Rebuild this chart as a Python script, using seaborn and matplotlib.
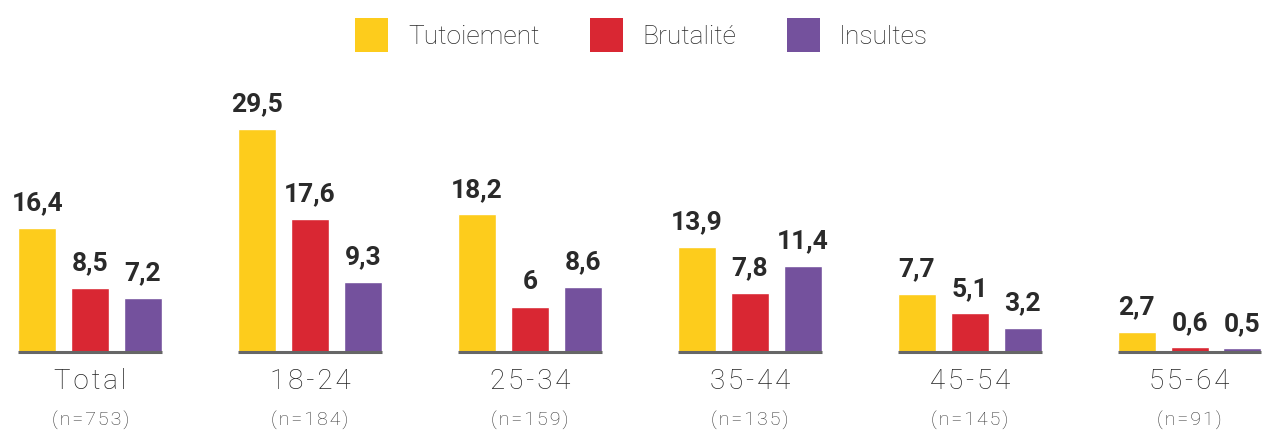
import matplotlib
matplotlib.use("Agg")
import matplotlib.pyplot as plt
import pandas as pd
import seaborn as sns
from matplotlib.patches import Patch

groups = ["Total", "18-24", "25-34", "35-44", "45-54", "55-64"]
sample_sizes = ["(n=753)", "(n=184)", "(n=159)", "(n=135)", "(n=145)", "(n=91)"]
series = ["Tutoiement", "Brutalité", "Insultes"]
tutoiement = [16.4, 29.5, 18.2, 13.9, 7.7, 2.7]
brutalite = [8.5, 17.6, 6.0, 7.8, 5.1, 0.6]
insultes = [7.2, 9.3, 8.6, 11.4, 3.2, 0.5]
colors = ["#FDCC1C", "#D92733", "#74519D"]

df = pd.DataFrame({
    "groupe": groups * 3,
    "type": [s for s in series for _ in groups],
    "valeur": tutoiement + brutalite + insultes,
})

sns.set_style("white")
plt.rcParams["font.family"] = ["Roboto", "DejaVu Sans"]

fig = plt.figure(figsize=(12.71, 4.33), dpi=100)
ax = fig.add_axes([0, 81 / 433, 1, 252 / 433])

sns.barplot(data=df, x="groupe", y="valeur", hue="type", palette=colors,
            saturation=1, width=0.72, gap=0.28, legend=False, ax=ax)

ax.set_xlim(-0.41, 5.37)
ax.set_ylim(0, 252 / 7.56)
sns.despine(ax=ax, left=True, bottom=True)
ax.set_xticks([])
ax.set_yticks([])
ax.set_xlabel("")
ax.set_ylabel("")


def fmt(v):
    s = f"{v:.1f}".replace(".", ",")
    return s[:-2] if s.endswith(",0") else s


def spaced(s):
    # a little letter spacing, like the original typography
    return "\u200a".join(s)


for cont in ax.containers:
    labels = [fmt(b.get_height()) for b in cont]
    ax.bar_label(cont, labels=labels, padding=9, fontsize=19,
                 fontweight="bold", color="#2a2a2a")

# baseline under each group
bars = [list(c) for c in ax.containers]
for i in range(len(groups)):
    left = bars[0][i].get_x()
    right = bars[-1][i].get_x() + bars[-1][i].get_width()
    ax.plot([left, right], [0, 0], color="#666666", lw=2.2,
            solid_capstyle="butt", clip_on=False, zorder=5)

for i, (g, n) in enumerate(zip(groups, sample_sizes)):
    ax.annotate(spaced(g), xy=(i, 0), xycoords=("data", "axes fraction"),
                xytext=(0, -21), textcoords="offset points",
                ha="center", va="center", fontsize=20, color="#222222",
                fontweight="light")
    ax.annotate(spaced(n), xy=(i, 0), xycoords=("data", "axes fraction"),
                xytext=(0, -49), textcoords="offset points",
                ha="center", va="center", fontsize=14, color="#333333",
                fontweight="light")

handles = [Patch(facecolor=c, edgecolor="none") for c in colors]
fig.legend(handles, series, loc="upper center", bbox_to_anchor=(0.505, 1.0),
           ncol=3, frameon=False, labelcolor="#2a2a2a",
           handlelength=1.25, handleheight=1.6, handletextpad=0.75,
           columnspacing=1.9, borderaxespad=0.3, prop={"weight": "light", "size": 19})

fig.savefig("out.png", dpi=100)
